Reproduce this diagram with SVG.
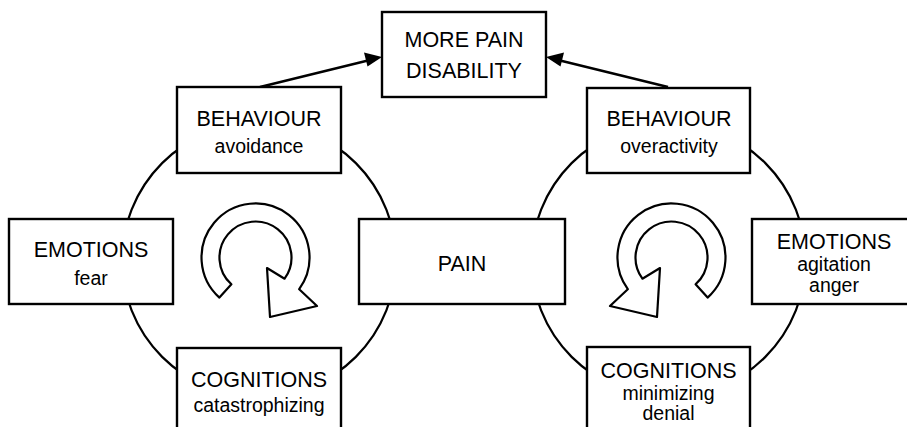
<svg xmlns="http://www.w3.org/2000/svg" width="907" height="427" viewBox="0 0 907 427">
<defs>
<style>
.box{fill:#fff;stroke:#000;stroke-width:2.4}
.ring{fill:none;stroke:#000;stroke-width:2.2}
.cyc{fill:#fff;stroke:#000;stroke-width:2.2;stroke-linejoin:round}
.t{font-family:"Liberation Sans",Arial,sans-serif;font-size:21.5px;fill:#000;text-anchor:middle}
.s{font-family:"Liberation Sans",Arial,sans-serif;font-size:19.5px;fill:#000;text-anchor:middle}
.arr{fill:none;stroke:#000;stroke-width:2.4}
.head{fill:#000}
</style>
</defs>
<rect width="907" height="427" fill="#fff"/>
<g id="rings">
<circle class="ring" cx="259" cy="260" r="137"/>
<circle class="ring" cx="668.5" cy="260" r="137"/>
</g>
<g id="connectors">
<line class="arr" x1="260" y1="87" x2="370" y2="60"/>
<path class="head" d="M382,57 L364,52.5 L367.5,66.5 Z"/>
<line class="arr" x1="668" y1="87" x2="558" y2="60"/>
<path class="head" d="M546,57 L564,52.5 L560.5,66.5 Z"/>
</g>
<g id="cycle-left">
<path class="cyc" d="M219.4,297.6 A54,54 0 1 1 299.2,289.2 L317,306 L270,317 L267,268 L284.6,278.7 A36,36 0 1 0 231.4,284.3 Z"/>
</g>
<g id="cycle-right">
<path class="cyc" d="M707.6,297.6 A54,54 0 1 0 627.8,289.2 L610,306 L657,317 L660,268 L642.4,278.7 A36,36 0 1 1 695.6,284.3 Z"/>
</g>
<g id="more-pain">
<rect class="box" x="382" y="12" width="164" height="85"/>
<text class="t" x="464" y="47">MORE PAIN</text>
<text class="t" x="464" y="78">DISABILITY</text>
</g>
<g id="behaviour-left">
<rect class="box" x="177" y="87" width="164" height="86"/>
<text class="t" x="259" y="126">BEHAVIOUR</text>
<text class="s" x="259" y="153">avoidance</text>
</g>
<g id="behaviour-right">
<rect class="box" x="587" y="88" width="163" height="85"/>
<text class="t" x="669" y="126">BEHAVIOUR</text>
<text class="s" x="669" y="153">overactivity</text>
</g>
<g id="emotions-left">
<rect class="box" x="9" y="219" width="164" height="85"/>
<text class="t" x="91" y="257">EMOTIONS</text>
<text class="s" x="91" y="285">fear</text>
</g>
<g id="pain">
<rect class="box" x="359" y="219" width="206" height="85"/>
<text class="t" x="462" y="271">PAIN</text>
</g>
<g id="emotions-right">
<rect class="box" x="752" y="219" width="170" height="85"/>
<text class="t" x="834" y="249">EMOTIONS</text>
<text class="s" x="834" y="271">agitation</text>
<text class="s" x="834" y="292">anger</text>
</g>
<g id="cognitions-left">
<rect class="box" x="177" y="348" width="164" height="90"/>
<text class="t" x="259" y="387">COGNITIONS</text>
<text class="s" x="259" y="412">catastrophizing</text>
</g>
<g id="cognitions-right">
<rect class="box" x="587" y="347" width="163" height="91"/>
<text class="t" x="668.5" y="378">COGNITIONS</text>
<text class="s" x="668.5" y="400">minimizing</text>
<text class="s" x="668.5" y="420">denial</text>
</g>
</svg>
